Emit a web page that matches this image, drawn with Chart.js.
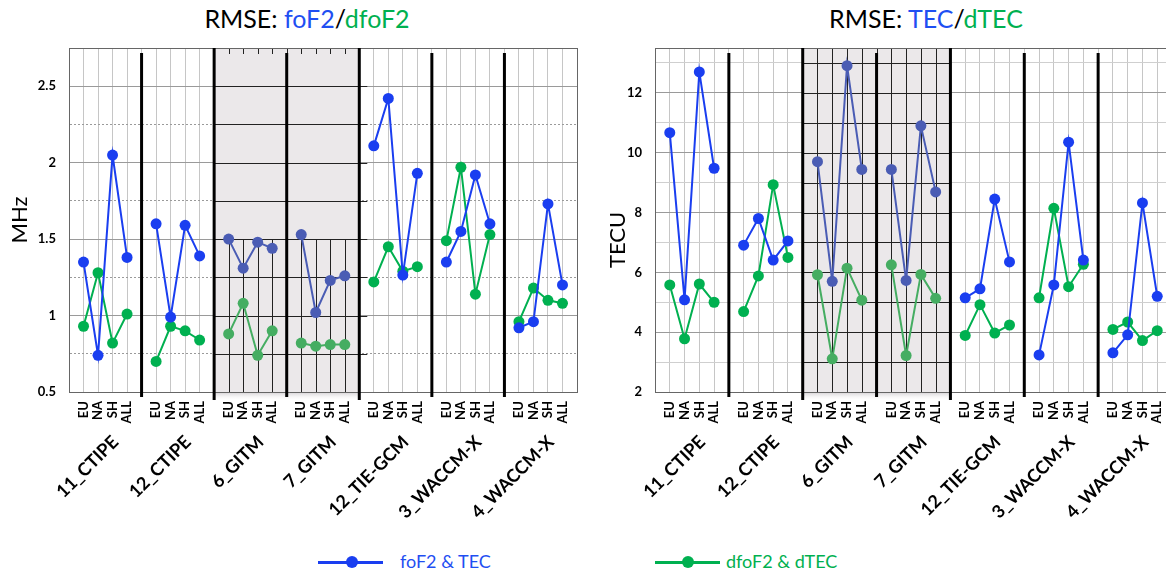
<!DOCTYPE html>
<html>
<head>
<meta charset="utf-8">
<script src="https://cdn.jsdelivr.net/npm/chart.js@4"></script>
<style>
  html, body { margin: 0; padding: 0; background: #fff; }
  body { width: 1166px; height: 575px; overflow: hidden; position: relative; font-family: Lato, "Open Sans", sans-serif; }
  canvas { position: absolute; top: 0; }
  .title { position: absolute; top: 3px; font-size: 25px; color: #000; white-space: nowrap; transform: translateX(-50%); }
  .blue { color: #1f4ff2; }
  .green { color: #00b050; }
  .leg-line { position: absolute; height: 3px; width: 65px; top: 561px; }
  .leg-dot { position: absolute; width: 12px; height: 12px; border-radius: 50%; top: 556px; }
  .leg-text { position: absolute; top: 550px; font-size: 18px; white-space: nowrap; }
</style>
</head>
<body>
<div class="title" style="left:307px">RMSE: <span class="blue">foF2</span>/<span class="green">dfoF2</span></div>
<div class="title" style="left:926px">RMSE: <span class="blue">TEC</span>/<span class="green">dTEC</span></div>

<canvas id="leftChart" width="590" height="530" style="left:0px"></canvas>
<canvas id="rightChart" width="600" height="530" style="left:580px"></canvas>

<div class="leg-line" style="left:318px;background:#1a3ef0"></div>
<div class="leg-dot" style="left:346px;background:#1a3ef0"></div>
<div class="leg-text blue" style="left:400px">foF2 &amp; TEC</div>
<div class="leg-line" style="left:655px;background:#00b050"></div>
<div class="leg-dot" style="left:682px;background:#00b050"></div>
<div class="leg-text green" style="left:726px">dfoF2 &amp; dTEC</div>

<script>
// chart data
const groups = ['11_CTIPE', '12_CTIPE', '6_GITM', '7_GITM', '12_TIE-GCM', '3_WACCM-X', '4_WACCM-X'];
const regions = ['EU', 'NA', 'SH', 'ALL'];

// MHz, 4 regions per model
const foF2 = [1.35, 0.74, 2.05, 1.38,  1.60, 0.99, 1.59, 1.39,  1.50, 1.31, 1.48, 1.44,  1.53, 1.02, 1.23, 1.26,
              2.11, 2.42, 1.265, 1.93,  1.35, 1.55, 1.92, 1.60,  0.92, 0.96, 1.73, 1.20];
const dfoF2 = [0.93, 1.28, 0.82, 1.01,  0.70, 0.93, 0.90, 0.84,  0.88, 1.08, 0.74, 0.90,  0.82, 0.80, 0.81, 0.81,
               1.22, 1.45, 1.29, 1.32,  1.49, 1.97, 1.14, 1.53,  0.96, 1.18, 1.10, 1.08];
// TECU
const tec = [10.67, 5.08, 12.7, 9.48,  6.91, 7.8, 6.41, 7.05,  9.7, 5.7, 12.91, 9.44,  9.44, 5.73, 10.9, 8.69,
             5.15, 5.45, 8.45, 6.35,  3.24, 5.58, 10.35, 6.41,  3.31, 3.91, 8.32, 5.2];
const dtec = [5.58, 3.78, 5.61, 5.0,  4.69, 5.88, 8.93, 6.5,  5.92, 3.11, 6.14, 5.07,  6.25, 3.22, 5.93, 5.13,
              3.89, 4.92, 3.97, 4.24,  5.15, 8.14, 5.52, 6.27,  4.09, 4.34, 3.72, 4.05];

const mhzTicks = [0.5, 1, 1.5, 2, 2.5];
const tecuTicks = [2, 4, 6, 8, 10, 12];

const BLUE = '#1a3ef0', BLUE_DIM = '#4a5cb4';
const GREEN = '#00b050', GREEN_DIM = '#45ad62';
const SHADE_FROM = 10, SHADE_TO = 20; // 6_GITM and 7_GITM

function inShade(x) { return x > SHADE_FROM && x < SHADE_TO; }

function buildSeries(values) {
    const pts = [];
    groups.forEach((name, g) => {
        regions.forEach((r, i) => pts.push({ x: g * 5 + i + 1, y: values[g * 4 + i] }));
        if (g < groups.length - 1) pts.push({ x: g * 5 + 5, y: null });
    });
    return pts;
}

function dataset(label, values, color, dim) {
    return {
        label: label,
        data: buildSeries(values),
        borderColor: color,
        borderWidth: 2,
        pointRadius: 5.5,
        pointHoverRadius: 5.5,
        pointBorderWidth: 0,
        pointBackgroundColor: ctx => (ctx.raw && inShade(ctx.raw.x)) ? dim : color,
        segment: { borderColor: ctx => inShade(ctx.p0.parsed.x) ? dim : undefined },
        spanGaps: false,
        tension: 0
    };
}

// shaded box, dark grid inside it, model separators, frame, model names
const decorPlugin = {
    id: 'decor',
    beforeDatasetsDraw(chart, args, opts) {
        const { ctx, chartArea: a, scales: { x, y } } = chart;
        const x0 = x.getPixelForValue(SHADE_FROM), x1 = x.getPixelForValue(SHADE_TO);
        ctx.save();
        const grad = ctx.createLinearGradient(0, a.bottom, 0, a.bottom + 9);
        grad.addColorStop(0, 'rgba(200,196,200,0.8)');
        grad.addColorStop(1, 'rgba(255,255,255,0)');
        ctx.fillStyle = grad;
        ctx.fillRect(x0, a.bottom, x1 - x0, 9);
        ctx.fillStyle = '#ebe8ea';
        ctx.fillRect(x0, a.top, x1 - x0, a.bottom - a.top);
        ctx.strokeStyle = '#222';
        ctx.lineWidth = 1;
        for (let v = y.min; v <= y.max + 1e-9; v += opts.minorStep) {
            const py = Math.round(y.getPixelForValue(v)) + 0.5;
            ctx.beginPath();
            ctx.moveTo(x0, py);
            ctx.lineTo(x1 + opts.overhang, py);
            ctx.stroke();
        }
        const vTop = y.getPixelForValue(opts.vFrom);
        for (let v = SHADE_FROM + 1; v < SHADE_TO; v++) {
            const px = Math.round(x.getPixelForValue(v)) + 0.5;
            ctx.beginPath();
            ctx.moveTo(px, a.top);
            ctx.lineTo(px, a.top + 6);
            ctx.moveTo(px, vTop);
            ctx.lineTo(px, a.bottom);
            ctx.stroke();
        }
        ctx.restore();
    },
    afterDatasetsDraw(chart) {
        const { ctx, chartArea: a, scales: { x } } = chart;
        ctx.save();
        ctx.strokeStyle = '#666';
        ctx.lineWidth = 1;
        ctx.strokeRect(a.left + 0.5, a.top + 0.5, a.right - a.left, a.bottom - a.top);
        ctx.strokeStyle = '#000';
        ctx.lineWidth = 3;
        for (let g = 1; g < groups.length; g++) {
            const v = g * 5;
            const px = x.getPixelForValue(v);
            const edge = v === SHADE_FROM || v === SHADE_TO;
            ctx.beginPath();
            ctx.moveTo(px, edge ? a.top : a.top + 5);
            ctx.lineTo(px, a.bottom + (edge ? 8 : 5));
            ctx.stroke();
        }
        ctx.restore();
    },
    afterDraw(chart) {
        const { ctx, chartArea: a, scales: { x } } = chart;
        ctx.save();
        ctx.fillStyle = '#000';
        ctx.font = 'bold 18px Lato, sans-serif';
        ctx.textAlign = 'right';
        ctx.textBaseline = 'middle';
        groups.forEach((name, g) => {
            ctx.save();
            ctx.translate(x.getPixelForValue(g * 5 + 3.2), a.bottom + 47);
            ctx.rotate(-Math.PI / 4);
            ctx.fillText(name, 0, 0);
            ctx.restore();
        });
        ctx.restore();
    }
};

// y axis title drawn at a fixed spot
const yTitlePlugin = {
    id: 'yTitle',
    afterDraw(chart, args, opts) {
        const ctx = chart.ctx;
        ctx.save();
        ctx.translate(opts.x, opts.y);
        ctx.rotate(-Math.PI / 2);
        ctx.font = '22px Lato, sans-serif';
        ctx.fillStyle = '#000';
        ctx.textAlign = 'center';
        ctx.textBaseline = 'middle';
        ctx.fillText(opts.text, 0, 0);
        ctx.restore();
    }
};

function createChart(canvasId, cfg) {
    const ctx = document.getElementById(canvasId).getContext('2d');
    const tickFont = { family: 'Lato, sans-serif', weight: 'bold', size: 13 };
    return new Chart(ctx, {
        type: 'line',
        data: {
            datasets: [
                dataset(cfg.blueLabel, cfg.blue, BLUE, BLUE_DIM),
                dataset(cfg.greenLabel, cfg.green, GREEN, GREEN_DIM)
            ]
        },
        options: {
            responsive: false,
            animation: false,
            layout: { padding: { top: 48, right: cfg.padRight, left: 0, bottom: 0 } },
            plugins: {
                legend: { display: false },
                tooltip: { enabled: false },
                decor: { minorStep: cfg.minorStep, overhang: cfg.overhang, vFrom: cfg.vFrom },
                yTitle: { text: cfg.yTitle, x: cfg.yTitleX, y: cfg.yTitleY }
            },
            scales: {
                x: {
                    type: 'linear',
                    min: 0,
                    max: 35,
                    afterFit: s => { s.height = 138; s.paddingLeft = 0; s.paddingRight = 0; },
                    ticks: {
                        stepSize: 1,
                        autoSkip: false,
                        maxRotation: 90,
                        minRotation: 90,
                        padding: 9,
                        color: '#000',
                        font: tickFont,
                        callback: v => (v % 5 === 0 ? '' : regions[v % 5 - 1])
                    },
                    grid: { drawTicks: false, color: '#c6c6c6', lineWidth: 1 },
                    border: { color: '#333', width: 1 }
                },
                y: {
                    min: cfg.min,
                    max: cfg.max,
                    afterFit: s => { s.width = cfg.axisWidth; s.paddingTop = 0; s.paddingBottom = 0; },
                    ticks: {
                        stepSize: cfg.minorStep,
                        autoSkip: false,
                        padding: 13,
                        color: '#000',
                        font: tickFont,
                        callback: v => (cfg.labels.some(t => Math.abs(t - v) < 1e-6) ? String(v) : '')
                    },
                    grid: {
                        drawTicks: false,
                        color: c => (c.tick && cfg.labels.some(t => Math.abs(t - c.tick.value) < 1e-6)) ? '#9a9a9a' : cfg.minorColor
                    },
                    border: {
                        color: '#555',
                        width: 1,
                        dash: c => (c.tick && !cfg.labels.some(t => Math.abs(t - c.tick.value) < 1e-6)) ? cfg.minorDash : []
                    }
                }
            }
        },
        plugins: [decorPlugin, yTitlePlugin]
    });
}

createChart('leftChart', {
    blueLabel: 'foF2', greenLabel: 'dfoF2',
    blue: foF2, green: dfoF2,
    min: 0.5, max: 2.75, minorStep: 0.25, labels: mhzTicks,
    minorColor: '#9a9a9a', minorDash: [2, 2],
    axisWidth: 69, padRight: 13, overhang: 8, vFrom: 1.5,
    yTitle: 'MHz', yTitleX: 20, yTitleY: 220
});

createChart('rightChart', {
    blueLabel: 'TEC', greenLabel: 'dTEC',
    blue: tec, green: dtec,
    min: 2, max: 13.5, minorStep: 1, labels: tecuTicks,
    minorColor: '#cfcfcf', minorDash: [],
    axisWidth: 75, padRight: 8, overhang: 0, vFrom: 13.5,
    yTitle: 'TECU', yTitleX: 38, yTitleY: 240
});
</script>
</body>
</html>
